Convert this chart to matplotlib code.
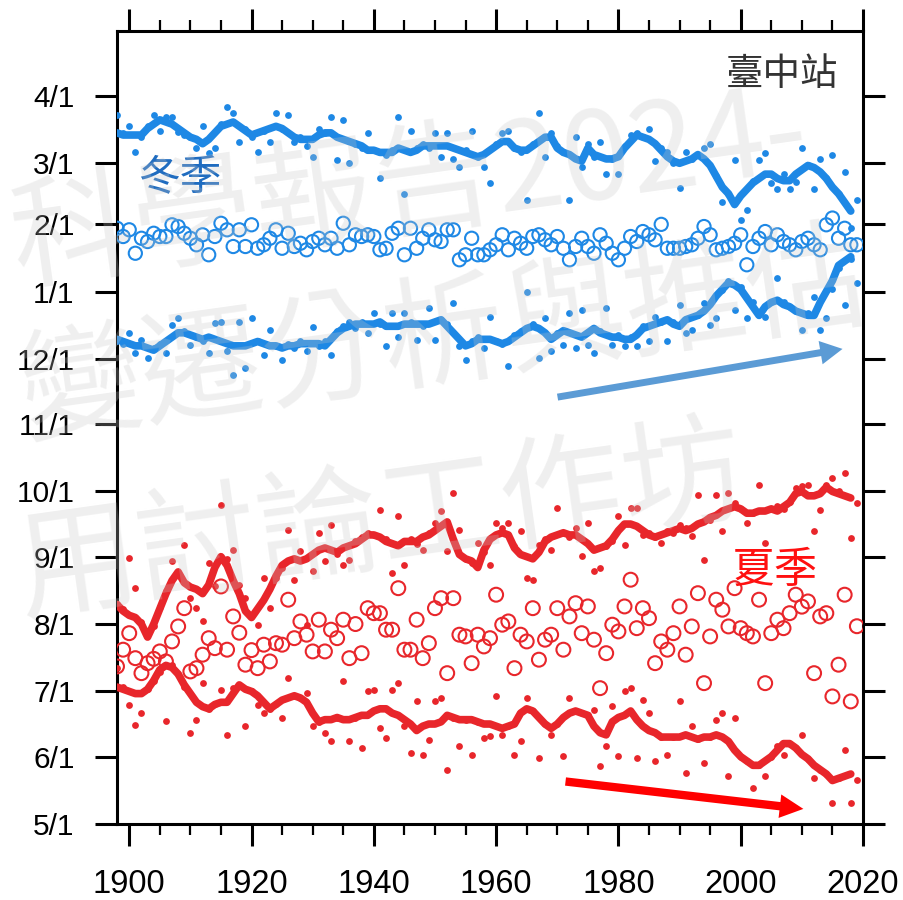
import numpy as np
import matplotlib
matplotlib.use('Agg')
import matplotlib.pyplot as plt
from matplotlib.patches import FancyArrowPatch

plt.rcParams['font.family'] = ['Liberation Sans', 'Noto Sans CJK TC', 'DejaVu Sans']

# ---------------- data (days counted from 1 May) ----------------
years = np.arange(1898, 2020)
line_years = np.arange(1898, 2019)

ytick_pos = [0, 31, 61, 92, 123, 153, 184, 214, 245, 276, 304, 335]
ytick_labels = ['5/1', '6/1', '7/1', '8/1', '9/1', '10/1', '11/1', '12/1',
                '1/1', '2/1', '3/1', '4/1']

winter_end_dots = [
    326, 318, 321, 309, 316, 321, 326, 319, 325.5, 325.5,
    318.6, 317, 316, 311, 321, 308.6, 311, 322, 330, 327,
    314, 320, 316, 309, 319, 314, 327, 320, 326, 314,
    316, 312, 307, 320, 318, 325.5, 305.6, 324, 304, 313,
    311, 318, 310, 297, 308, 310, 325.5, 290, 319, 311,
    313, 311, 318, 307, 318, 306, 302.5, 310, 319, 307,
    302.5, 295, 313, 318, 319, 311, 309, 287, 313, 327,
    307, 318, 312, 309, 287, 316, 302.5, 313, 307, 314,
    299, 306, 299, 312, 317, 318, 316, 320, 305, 311,
    309, 304, 292.5, 309, 306, 308, 311, 313, 298, 286,
    290, 305.6, 278, 282.6, 296, 305.6, 308.6, 295, 292, 299,
    292, 295.6, 311, 303, 292, 306, 297, 308, 290, 300,
    274, 287]

winter_end_line = [
    318, 317, 317, 317, 317, 320, 322, 324, 323, 322,
    320, 318, 316, 315, 313, 315, 318, 321, 322, 323,
    321, 319, 317, 318, 319, 320, 321, 320, 318, 316,
    315, 315, 315, 317, 318, 318, 316, 315, 314, 313,
    312, 310, 310, 309, 309, 309, 311, 310, 309, 310,
    312, 312, 312, 312, 312, 311, 310, 309, 308, 307,
    308, 310, 312, 314, 314, 311, 310, 310, 312, 314,
    316, 316, 311, 309, 308, 306, 305, 311, 308, 307,
    306, 306, 307, 311, 314, 317, 316, 315, 313, 310,
    307, 305, 304, 305, 306, 308, 306, 303, 298, 293,
    290, 285, 289, 292, 295, 297, 299, 299, 297, 296,
    296, 299, 301, 303, 302, 300, 297, 293, 290, 286,
    282]

winter_start_dots = [
    222, 221, 225.8, 216.6, 222.8, 214.3, 219, 221, 216.6, 229.7,
    232.7, 227, 220.5, 224, 222, 216.6, 230.4, 231.2, 217.4, 206.7,
    231.2, 209.7, 232.7, 222, 215.9, 227.4, 220, 213.6, 221, 219,
    222, 217.4, 228.9, 220, 222, 215.9, 227, 229, 231, 228,
    231, 225.8, 235, 230, 219.7, 235, 224.3, 235, 231, 222.8,
    229, 237.3, 222.8, 232, 230, 239.6, 219.7, 213.6, 222, 224,
    218.9, 233.5, 222, 221, 210.5, 225, 227, 245, 230, 214.3,
    232.7, 217.4, 226, 220.5, 235, 218.9, 236.6, 220.5, 216.6, 227,
    237.3, 220.5, 225, 219.7, 224, 219.7, 229, 222, 233.5, 231,
    222, 231, 238.9, 225.8, 227.4, 234, 239.6, 229.7, 232.7, 245.8,
    250, 236.6, 247, 232.7, 240, 235, 233.5, 240, 251.1, 240,
    238, 236, 227.4, 235, 242.7, 227.4, 232.7, 246, 256, 238.9,
    260, 248.8]

winter_start_line = [
    223, 222, 221, 220, 220, 219, 218, 220, 222, 224,
    226, 226, 225, 224, 223, 224, 223, 222, 221, 220,
    220, 220, 221, 222, 221, 220, 220, 219, 220, 220,
    221, 221, 221, 221, 220, 223, 226, 228, 229, 230,
    230, 230, 230, 231, 229, 229, 229, 230, 230, 230,
    230, 230, 231, 232, 229, 226, 223, 220, 221, 223,
    223, 223, 222, 221, 222, 224, 226, 228, 229, 228,
    226, 223, 225, 227, 226, 225, 224, 226, 228, 226,
    225, 224, 224, 223, 223, 225, 228, 229, 230, 231,
    232, 230, 229, 232, 233, 234, 236, 239, 243, 246,
    249, 248, 246, 242, 238, 234, 238, 240, 241, 239,
    238, 236, 235, 234, 234, 240, 245, 250, 257, 259,
    261]

winter_mid = [
    274.1, 270.3, 273.4, 262.6, 269.5, 268, 271.8, 270.3, 270.3, 275.7,
    274.9, 271.8, 269.5, 266.5, 271.1, 261.9, 270.3, 276.4, 273.4, 265.7,
    273.4, 265.7, 275.7, 264.9, 266.5, 269.5, 273.4, 264.9, 271.8, 265.7,
    267.2, 264.2, 268, 269.5, 266.5, 269.5, 264.9, 276.4, 266.5, 271.1,
    270.3, 271.1, 270.3, 264.2, 264.9, 271.8, 274.1, 261.9, 274.1, 264.9,
    269.5, 273.4, 268.8, 268, 273.4, 273.4, 259.6, 261.9, 269.5, 261.9,
    261.9, 264.2, 266.5, 271.1, 264.2, 269.5, 267.2, 264.9, 270.3, 271.1,
    268.8, 266.5, 270.3, 264.9, 259.6, 265.7, 269.5, 265.7, 262.6, 271.1,
    267.2, 262.6, 259.6, 264.9, 270.3, 268, 272.6, 271.1, 268.8, 275.9,
    264.9, 264.9, 264.9, 265.7, 266.5, 269.5, 274.9, 271.1, 264.2, 264.9,
    265.7, 267.2, 271.1, 257.3, 265.7, 269.5, 272.6, 266.5, 271.1, 268,
    266.5, 264.2, 268, 269.5, 266.5, 264.2, 275.7, 278.8, 269.5, 274.1,
    266.5, 266.5]

summer_end_dots = [
    101, 99, 122.3, 108.5, 93, 88, 91, 100, 107, 120.8,
    115, 128.5, 103.9, 99.3, 93.2, 120, 109.3, 146.9, 122, 126.2,
    110, 103.9, 96, 91.7, 113.1, 99.3, 113, 118, 135.4, 112.4,
    125.4, 91.7, 116.2, 133.8, 120.8, 137.7, 124, 119.3, 121.6, 130,
    132, 134, 133, 144.6, 131, 115.4, 141.5, 119.3, 131, 129,
    126.2, 134, 138.4, 143.8, 125.4, 152.2, 135.4, 122, 120, 129.2,
    125, 119.3, 138.4, 136.1, 138.4, 128, 134.6, 113.1, 112.4, 128.5,
    131, 126.2, 145.3, 134, 132, 136.1, 123.1, 138.4, 116.2, 117.7,
    128, 130, 141.5, 128.5, 145.3, 145.3, 133.1, 134, 132, 129.2,
    135, 134, 137.7, 136, 132.3, 151.5, 121.6, 140, 151.5, 134.6,
    152.2, 147.6, 145, 138.4, 143, 156.1, 129.2, 145, 146.1, 145,
    148, 154.5, 155.3, 156.1, 134.6, 144.6, 156.1, 159.1, 153, 161.4,
    131.5, 147.6]

summer_end_line = [
    101, 98, 96, 95, 92, 86, 92, 99, 106, 112,
    116, 111, 109, 108, 106, 110, 118, 123, 119, 112,
    106, 98, 95, 99, 103, 108, 114, 119, 121, 122,
    121, 122, 124, 126, 127, 126, 125, 127, 128, 129,
    131, 133, 133, 132, 130, 129, 128, 130, 130, 130,
    132, 133, 135, 137, 139, 131, 124, 122, 121, 118,
    126, 131, 133, 134, 133, 127, 124, 123, 122, 125,
    130, 132, 133, 134, 133, 133, 131, 129, 126, 127,
    128, 131, 135, 138, 138, 137, 135, 133, 132, 133,
    134, 135, 136, 135, 136, 138, 139, 141, 142, 144,
    145, 146, 145, 143, 143, 144, 144, 145, 144, 146,
    148, 152, 153, 151, 151, 152, 155, 153, 152, 151,
    150]

summer_start_dots = [
    71.7, 63, 54.9, 45.7, 51, 62, 66, 70, 47.2, 73,
    69, 63, 41.8, 48, 64.8, 53, 55, 61.8, 41.1, 62.5,
    64, 44.9, 61, 54.9, 51, 53, 55, 48.7, 67.1, 59,
    58, 60.2, 44.9, 47, 41.8, 38, 49, 65.6, 38, 49,
    34.9, 61, 61.8, 44.1, 39.5, 61.8, 64.8, 44.9, 32.6, 56.4,
    31.9, 38.8, 56.4, 57.9, 25, 49, 35.7, 48, 31.9, 47,
    39.5, 40.3, 58.7, 41.1, 45, 31.9, 38, 57.9, 52, 30.3,
    46, 41.1, 46, 31.1, 57.9, 52, 51, 50, 52.6, 26.5,
    35.7, 54.1, 31.1, 61, 62.5, 30.3, 57.2, 51, 28.8, 40,
    31.9, 40, 56.4, 23.4, 44.9, 39, 28, 40, 48, 51,
    21.9, 48.7, 31, 29, 16.5, 27, 21.9, 31, 35.7, 31.9,
    37, 35, 41.1, 30, 21.1, 25, 23, 9.6, 21, 34.2,
    9.6, 20.4]

summer_start_line = [
    63, 62, 61, 60, 60, 62, 66, 71, 73, 72,
    69, 64, 60, 56, 54, 53, 55, 56, 56, 60,
    64, 62, 61, 59, 56, 53, 55, 57, 58, 59,
    58, 56, 51, 47, 48, 48, 49, 48, 48, 49,
    50, 50, 52, 53, 53, 51, 50, 48, 46, 43,
    45, 46, 46, 47, 50, 49, 48, 48, 48, 47,
    46, 46, 45, 44, 45, 46, 51, 53, 52, 49,
    46, 44, 46, 49, 51, 52, 51, 50, 45, 42,
    41, 47, 49, 50, 52, 48, 45, 43, 42, 40,
    40, 40, 40, 41, 40, 39, 40, 40, 41, 40,
    38, 34, 31, 29, 27, 27, 29, 31, 34, 37,
    37, 35, 32, 30, 27, 25, 23, 20, 21, 22,
    23]

summer_mid = [
    72.5, 80.2, 87.8, 76.3, 69.4, 74, 76, 79.4, 74.8, 84,
    90.9, 99.3, 70.2, 71.7, 77.9, 85.5, 80.9, 109.3, 80.2, 95.5,
    88, 73.3, 80, 71.7, 82.5, 74.8, 83.2, 82.5, 103.2, 85.5,
    93.2, 87.1, 79.4, 94, 79.4, 89.4, 85.5, 94, 76.3, 92,
    78.6, 99.3, 97, 97, 89.4, 89.4, 108.5, 80.2, 80.2, 94,
    76.3, 83.2, 99.3, 103.9, 69.4, 103.9, 87.1, 86.3, 74, 87.1,
    81.7, 85.5, 105.5, 91.7, 93.2, 71.7, 87.1, 84, 99.3, 75.6,
    84.8, 87.1, 99.3, 80.2, 95.5, 101.6, 87.8, 100.1, 84.8, 62.5,
    78.6, 91.7, 88.6, 100.1, 112.4, 90.1, 99.3, 94.7, 74, 84,
    80.2, 87.8, 100.1, 77.9, 90.9, 106.2, 64.8, 86.3, 103.2, 98.6,
    90.9, 108.5, 90.1, 87.8, 86.3, 103.2, 64.8, 87.8, 94, 90.1,
    97, 105.5, 100, 102.4, 69.4, 95.5, 97, 58.7, 73.3, 105.5,
    56.4, 91]

# ---------------- figure ----------------
W, H = 904, 900
fig = plt.figure(figsize=(W / 100, H / 100), dpi=100)
ax = fig.add_axes([117 / W, 1 - 824 / H, (863 - 117) / W, (824 - 30.7) / H])

BLUE = '#1e88e5'
RED = '#e8262b'

# dots
for vals, col in [(winter_end_dots, BLUE), (winter_start_dots, BLUE),
                  (summer_end_dots, RED), (summer_start_dots, RED)]:
    ax.scatter(years, vals, s=24, color=col, lw=0, zorder=3)
# circles
ax.scatter(years, winter_mid, s=90, facecolors='none', edgecolors=BLUE,
           linewidths=1.5, zorder=3)
ax.scatter(years, summer_mid, s=100, facecolors='none', edgecolors=RED,
           linewidths=1.5, zorder=3)
# smoothed lines
for vals, col in [(winter_end_line, BLUE), (winter_start_line, BLUE),
                  (summer_end_line, RED), (summer_start_line, RED)]:
    ax.plot(line_years, vals, color=col, lw=5.5, solid_joinstyle='round',
            solid_capstyle='round', zorder=4)

# trend arrows
arr_b = FancyArrowPatch((1969.6, 196.2), (2017.1, 218.8),
                        arrowstyle='simple,head_length=1.6,head_width=1.7,tail_width=0.5',
                        mutation_scale=10, color='#5b9bd5', lw=0, zorder=5)
ax.add_patch(arr_b)
arr_r = FancyArrowPatch((1970.9, 19.7), (2010.7, 6.8),
                        arrowstyle='simple,head_length=1.7,head_width=1.7,tail_width=0.6',
                        mutation_scale=10, color='#ff0000', lw=0, zorder=5)
ax.add_patch(arr_r)

# labels
ax.text(1908.3, 297.4, '冬季', fontsize=30, color='#1f6cc0', ha='center', va='center',
        family=['Noto Sans CJK TC'], zorder=6)
ax.text(2005.5, 116.6, '夏季', fontsize=31, color='#ff1010', ha='center', va='center',
        family=['Noto Sans CJK TC'], zorder=6)
ax.text(2006.8, 344.8, '臺中站', fontsize=27, color='#333333', ha='center', va='center',
        family=['Noto Sans CJK TC'], zorder=6)

# axes
ax.set_xlim(1898, 2020)
ax.set_ylim(0, 365)
ax.set_xticks(range(1900, 2021, 20))
ax.set_xticks(range(1900, 2021, 5), minor=True)
ax.set_yticks(ytick_pos)
ax.set_yticklabels(ytick_labels)
ax.tick_params(axis='both', which='major', direction='out', length=15.5, width=2.2,
               top=True, right=True)
ax.tick_params(axis='x', which='minor', direction='out', length=8, width=1.6,
               top=True, bottom=True)
ax.tick_params(axis='y', which='major', pad=15, labelsize=21.5)
ax.tick_params(axis='x', which='major', pad=17, labelsize=23.5)
for sp in ax.spines.values():
    sp.set_linewidth(2.2)

# watermark
wm = dict(fontsize=88, color=(0.78, 0.78, 0.78), alpha=0.28, ha='center', va='center',
          rotation=8, rotation_mode='anchor', family=['Noto Sans CJK TC', 'DejaVu Sans'],
          zorder=20)
fig.text(410 / W, 1 - 190 / H, '科學報告2024-', **wm)
fig.text(445 / W, 1 - 340 / H, '變遷分析與推估', **wm)
fig.text(380 / W, 1 - 525 / H, '用討論工作坊', **wm)

fig.savefig('out.png', dpi=100)
